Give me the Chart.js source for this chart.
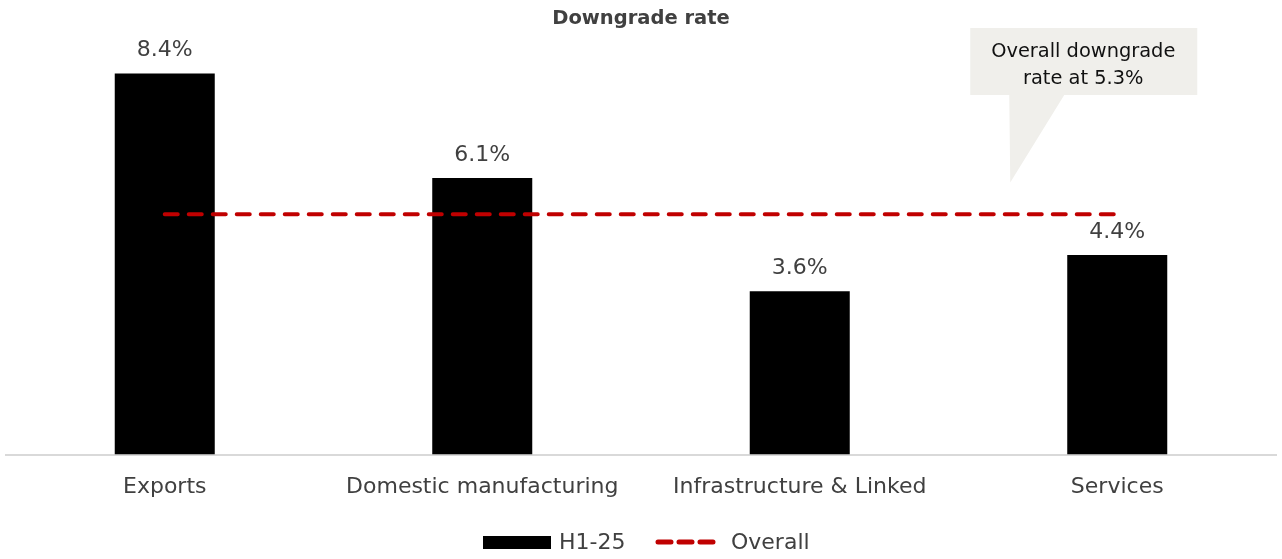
<!DOCTYPE html>
<html lang="en">
<head>
<meta charset="UTF-8">
<title>Downgrade rate</title>
<script src="https://cdn.jsdelivr.net/npm/chart.js"></script>
<style>
  html, body { margin: 0; padding: 0; background: #fff; }
  #wrap { width: 1282px; height: 559px; }
</style>
</head>
<body>
<div id="wrap"><canvas id="chart"></canvas></div>
<script>
// data
const categories = ["Exports", "Domestic manufacturing", "Infrastructure & Linked", "Services"];
const h125 = [8.4, 6.1, 3.6, 4.4];
const overall = [5.3, 5.3, 5.3, 5.3];
const calloutText = ["Overall downgrade", "rate at 5.3%"];

const FONT = "'DejaVu Sans', sans-serif";
const TXT = "#404040";
const RED = "#c00000";

// labels over bars, callout and legend
const extras = {
  id: "extras",
  afterDatasetsDraw(chart) {
    const ctx = chart.ctx;
    const bars = chart.getDatasetMeta(1).data;
    ctx.save();
    ctx.font = "22px " + FONT;
    ctx.fillStyle = TXT;
    ctx.textAlign = "center";
    ctx.textBaseline = "bottom";
    bars.forEach((b, i) => {
      ctx.fillText(h125[i].toFixed(1) + "%", b.x, b.y - 12);
    });

    // callout box
    const xs = chart.scales.x, ys = chart.scales.y;
    const cx = xs.getPixelForValue(3) - 34;
    const bx = cx - 113, bw = 227, by = 28, bh = 67;
    const tipX = xs.getPixelForValue(3) - 107;
    const tipY = ys.getPixelForValue(6.0);
    ctx.fillStyle = "#f0efeb";
    ctx.beginPath();
    ctx.moveTo(bx, by);
    ctx.lineTo(bx + bw, by);
    ctx.lineTo(bx + bw, by + bh);
    ctx.lineTo(bx + 94, by + bh);
    ctx.lineTo(tipX, tipY);
    ctx.lineTo(bx + 39, by + bh);
    ctx.lineTo(bx, by + bh);
    ctx.closePath();
    ctx.fill();
    ctx.fillStyle = "#111";
    ctx.font = "19.4px " + FONT;
    ctx.textBaseline = "middle";
    ctx.fillText(calloutText[0], cx, by + 24);
    ctx.fillText(calloutText[1], cx, by + 51);

    // legend
    const ly = 542;
    ctx.fillStyle = "#000";
    ctx.fillRect(483, ly - 6, 68, 13);
    ctx.fillStyle = TXT;
    ctx.font = "22px " + FONT;
    ctx.textAlign = "left";
    ctx.fillText("H1-25", 559, ly + 1);
    ctx.strokeStyle = RED;
    ctx.lineWidth = 5;
    ctx.lineCap = "round";
    ctx.setLineDash([13, 8]);
    ctx.beginPath();
    ctx.moveTo(658, ly);
    ctx.lineTo(718, ly);
    ctx.stroke();
    ctx.setLineDash([]);
    ctx.fillText("Overall", 731, ly + 1);
    ctx.restore();
  }
};

new Chart(document.getElementById("chart"), {
  data: {
    labels: categories,
    datasets: [
      {
        type: "line",
        label: "Overall",
        data: overall,
        borderColor: RED,
        borderWidth: 4,
        borderDash: [13, 11],
        borderCapStyle: "round",
        pointRadius: 0,
        fill: false,
        order: 0
      },
      {
        type: "bar",
        label: "H1-25",
        data: h125,
        backgroundColor: "#000",
        barPercentage: 0.315,
        categoryPercentage: 1.0,
        order: 1
      }
    ]
  },
  options: {
    responsive: true,
    maintainAspectRatio: false,
    animation: false,
    layout: { padding: { left: 6, right: 6, top: 0, bottom: 40 } },
    plugins: {
      legend: { display: false },
      tooltip: { enabled: false },
      title: {
        display: true,
        text: "Downgrade rate",
        color: TXT,
        font: { family: FONT, size: 19.5, weight: "bold" },
        padding: { top: 7, bottom: 16 }
      }
    },
    scales: {
      x: {
        grid: { display: false, drawTicks: false },
        border: { color: "#d9d9d9", width: 2 },
        ticks: { color: TXT, font: { family: FONT, size: 22 }, padding: 19 }
      },
      y: {
        display: false,
        min: 0,
        max: 9
      }
    }
  },
  plugins: [extras]
});
</script>
</body>
</html>
